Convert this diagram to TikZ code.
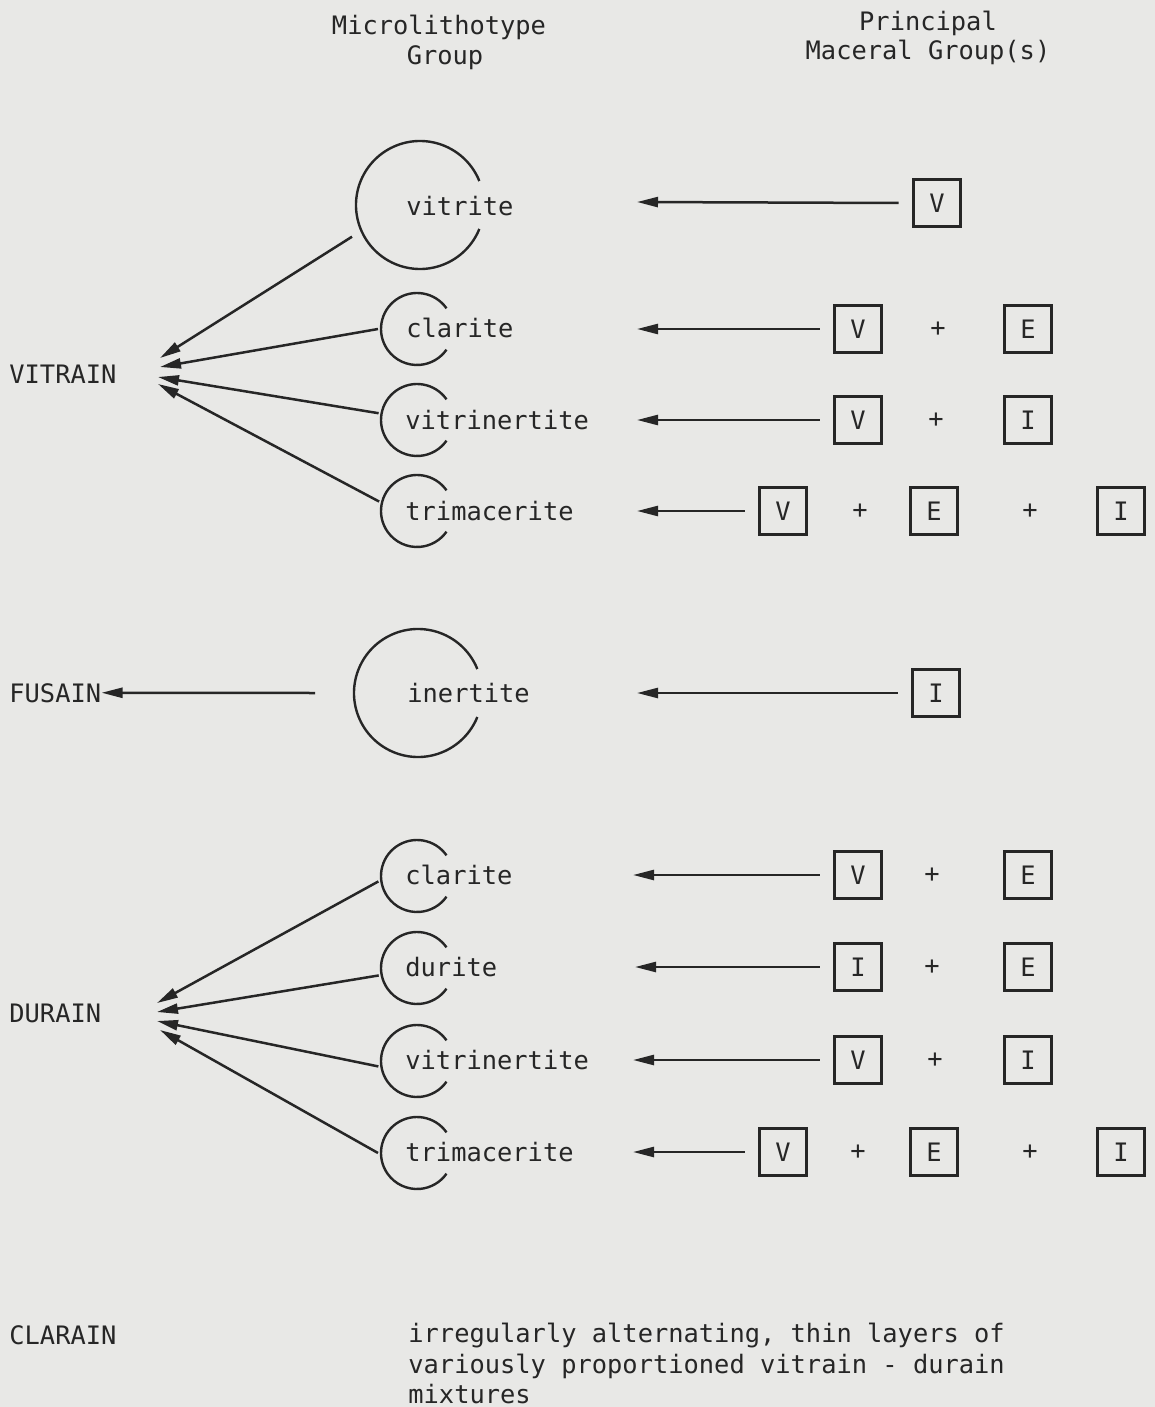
\documentclass[tikz,border=0pt]{standalone}
\usepackage{fontspec}
\setmainfont{DejaVu Sans Mono}
\usetikzlibrary{arrows.meta}
\definecolor{paper}{HTML}{E8E8E6}
\definecolor{ink}{HTML}{262626}
\begin{document}
\begin{tikzpicture}[x=0.5pt,y=0.5pt,
  fnt/.style={font=\fontsize{12.7}{15.2}\selectfont, text=ink},
  txt/.style={fnt, inner sep=0, anchor=base west},
  ctxt/.style={fnt, inner sep=0, anchor=base},
  ring/.style={circle, inner sep=0, outer sep=0, minimum size=#1},
  mbox/.style={fnt, draw=ink, line width=1.2pt, minimum size=23.5pt, inner sep=0, outer sep=7.5pt},
  plus/.style={fnt, inner sep=0},
  arr/.style={draw=ink, line width=1.25pt, -{Triangle[length=10.5pt,width=5pt]}},
  arcline/.style={draw=ink, line width=1.2pt}]
\fill[paper] (0,0) rectangle (1155,-1407);
\useasboundingbox (0,0) rectangle (1155,-1407);

% headers
\node[ctxt] (h1) at (439,-35) {Microlithotype};
\node[ctxt] (h2) at (445,-65) {Group};
\node[ctxt] (h3) at (928,-31) {Principal};
\node[ctxt] (h4) at (928,-60) {Maceral Group(s)};

% left labels
\node[txt] (vitrain) at (9,-383) {VITRAIN};
\node[txt] (fusain) at (9,-702) {FUSAIN};
\node[txt] (durain) at (9,-1022) {DURAIN};
\node[txt] (clarain) at (9,-1344) {CLARAIN};

% rings (invisible anchors) + arcs
\node[ring=75pt] (vit) at (420,-205) {};
\node[ring=39pt] (cla) at (417,-329) {};
\node[ring=39pt] (vin) at (417,-420) {};
\node[ring=39pt] (tri) at (417,-511) {};
\node[ring=75pt] (ine) at (418,-693) {};
\node[ring=39pt] (cla2) at (417,-876) {};
\node[ring=39pt] (dur) at (417,-968) {};
\node[ring=39pt] (vin2) at (417,-1061) {};
\node[ring=39pt] (tri2) at (417,-1153) {};

\foreach \n in {vit,ine}{
  \draw[arcline] ([shift={(22:32pt)}]\n.center) arc[start angle=22,end angle=338,radius=32pt];
}
\foreach \n in {cla,vin,tri,cla2,dur,vin2,tri2}{
  \draw[arcline] ([shift={(35:18pt)}]\n.center) arc[start angle=35,end angle=325,radius=18pt];
}

% texts inside
\node[txt] (tvit) at (406,-216) {vitrite};
\node[txt] (tcla) at (406,-337) {clarite};
\node[txt] (tvin) at (405,-429) {vitrinertite};
\node[txt] (ttri) at (405,-520) {trimacerite};
\node[txt] (tine) at (407,-702) {inertite};
\node[txt] (tcla2) at (405,-884) {clarite};
\node[txt] (tdur) at (405,-976) {durite};
\node[txt] (tvin2) at (405,-1069) {vitrinertite};
\node[txt] (ttri2) at (405,-1161) {trimacerite};

% convergence points
\coordinate (va) at (160,-358);
\coordinate (vb) at (160,-367);
\coordinate (vc) at (158,-377);
\coordinate (vd) at (158,-384);
\coordinate (da) at (157,-1003);
\coordinate (db) at (157,-1012);
\coordinate (dc) at (157,-1021);
\coordinate (dd) at (160,-1030);

\draw[arr] (vit.205) -- (va);
\draw[arr] (cla.180) -- (vb);
\draw[arr] (vin.170) -- (vc);
\draw[arr] (tri.166) -- (vd);
\draw[arr] ([xshift=-14pt]ine.west) -- (fusain.east);
\draw[arr] (cla2.188) -- (da);
\draw[arr] (dur.191) -- (db);
\draw[arr] (vin2.188) -- (dc);
\draw[arr] (tri2.180) -- (dd);

% maceral boxes
\node[mbox] (b1) at (937,-203) {V};
\node[mbox] (b2v) at (858,-329) {V};
\node[plus] (p2) at (938,-329) {+};
\node[mbox] (b2e) at (1028,-329) {E};
\node[mbox] (b3v) at (858,-420) {V};
\node[plus] (p3) at (936,-420) {+};
\node[mbox] (b3i) at (1028,-420) {I};
\node[mbox] (b4v) at (783,-511) {V};
\node[plus] (p4a) at (860,-511) {+};
\node[mbox] (b4e) at (934,-511) {E};
\node[plus] (p4b) at (1030,-511) {+};
\node[mbox] (b4i) at (1121,-511) {I};
\node[mbox] (b5) at (936,-693) {I};
\node[mbox] (b6v) at (858,-875) {V};
\node[plus] (p6) at (932,-875) {+};
\node[mbox] (b6e) at (1028,-875) {E};
\node[mbox] (b7i) at (858,-967) {I};
\node[plus] (p7) at (932,-967) {+};
\node[mbox] (b7e) at (1028,-967) {E};
\node[mbox] (b8v) at (858,-1060) {V};
\node[plus] (p8) at (935,-1060) {+};
\node[mbox] (b8i) at (1028,-1060) {I};
\node[mbox] (b9v) at (783,-1152) {V};
\node[plus] (p9a) at (858,-1152) {+};
\node[mbox] (b9e) at (934,-1152) {E};
\node[plus] (p9b) at (1030,-1152) {+};
\node[mbox] (b9i) at (1121,-1152) {I};

% right arrow tips
\coordinate (r1) at (637,-202);
\coordinate (r2) at (637,-329);
\coordinate (r3) at (637,-420);
\coordinate (r4) at (637,-511);
\coordinate (r5) at (637,-693);
\coordinate (r6) at (633,-875);
\coordinate (r7) at (635,-967);
\coordinate (r8) at (633,-1060);
\coordinate (r9) at (633,-1152);

\draw[arr] (b1.west) -- (r1);
\draw[arr] (b2v.west) -- (r2);
\draw[arr] (b3v.west) -- (r3);
\draw[arr] (b4v.west) -- (r4);
\draw[arr] (b5.west) -- (r5);
\draw[arr] (b6v.west) -- (r6);
\draw[arr] (b7i.west) -- (r7);
\draw[arr] (b8v.west) -- (r8);
\draw[arr] (b9v.west) -- (r9);

% clarain description
\node[fnt, inner sep=0, anchor=north west, align=left] (desc) at (408,-1323)
  {irregularly alternating, thin layers of\\variously proportioned vitrain - durain\\mixtures};
\end{tikzpicture}
\end{document}
